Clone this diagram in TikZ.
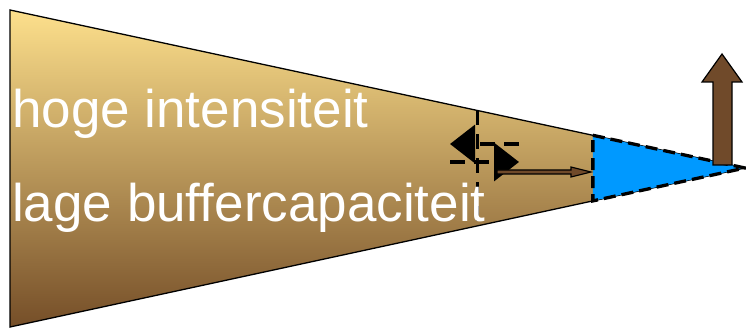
\documentclass[tikz,border=0pt]{standalone}
\usepackage{fontspec}
\setmainfont{Liberation Sans}
\usetikzlibrary{arrows.meta, calc}
\definecolor{zandlicht}{RGB}{253,224,140}
\definecolor{zandmidden}{RGB}{222,190,118}
\definecolor{zanddonker}{RGB}{117,78,40}
\definecolor{waterblauw}{RGB}{0,153,255}
\definecolor{pijlbruin}{RGB}{112,74,42}
\tikzset{
	x=1pt, y=-1pt, % pixel units, y runs downwards
	wig/.style={draw=black, line width=1.3pt, top color=zandlicht, middle color=zandmidden, bottom color=zanddonker}, % the gradient wedge
	punt/.style={fill=waterblauw, draw=black, line width=3.3pt, dash pattern=on 12pt off 6pt}, % blue tip with dashed rim
	grens/.style={draw=black, line width=3.5pt, dash pattern=on 15pt off 9pt}, % dashed boundary lines
	stroom/.style={grens, -{Triangle[length=25pt, width=38pt]}}, % thick black exchange arrows
	blokpijl/.style={fill=pijlbruin, draw=black, line width=1.2pt, line join=miter}, % brown block arrows
	tekst/.style={text=white, font=\fontsize{53}{60}\selectfont, anchor=base west, inner sep=0pt}, % white labels
}

\begin{document}
\begin{tikzpicture}
	\useasboundingbox (0,0) rectangle (746,328);

	% corners of the wedge
	\coordinate (lb) at (10,10);
	\coordinate (lo) at (10,327);
	\coordinate (top) at (745,168);
	\coordinate (pb) at ($(lb)!0.793!(top)$);
	\coordinate (po) at ($(lo)!0.793!(top)$);
	\coordinate (gb) at ($(lb)!0.636!(top)$);
	\coordinate (go) at ($(lo)!0.636!(top)$);

	\path[wig] (lb) -- (top) -- (lo) -- cycle;
	\path[punt] (pb) -- (top) -- (po) -- cycle;
	\draw[grens] (gb) -- (go);

	\node[tekst] (hoog) at (12,128) {hoge intensiteit};
	\node[tekst] (laag) at (12,222) {lage buffercapaciteit};

	% exchange arrows across the boundary
	\coordinate (a1) at (519,144);
	\coordinate (a2) at (450,144);
	\coordinate (b1) at (450,162);
	\coordinate (b2) at (519,162);
	\draw[stroom] (a1) -- (a2);
	\draw[stroom] (b1) -- (b2);

	% thin brown arrow towards the tip
	\path[blokpijl] (497,170) -- (571,170) -- (571,167) -- (591,172) -- (571,177)
		-- (571,174) -- (497,174) -- cycle;

	% upward brown arrow
	\path[blokpijl] (713,165) -- (713,82) -- (702,82) -- (722,54) -- (742,82)
		-- (732,82) -- (732,165) -- cycle;
\end{tikzpicture}
\end{document}
